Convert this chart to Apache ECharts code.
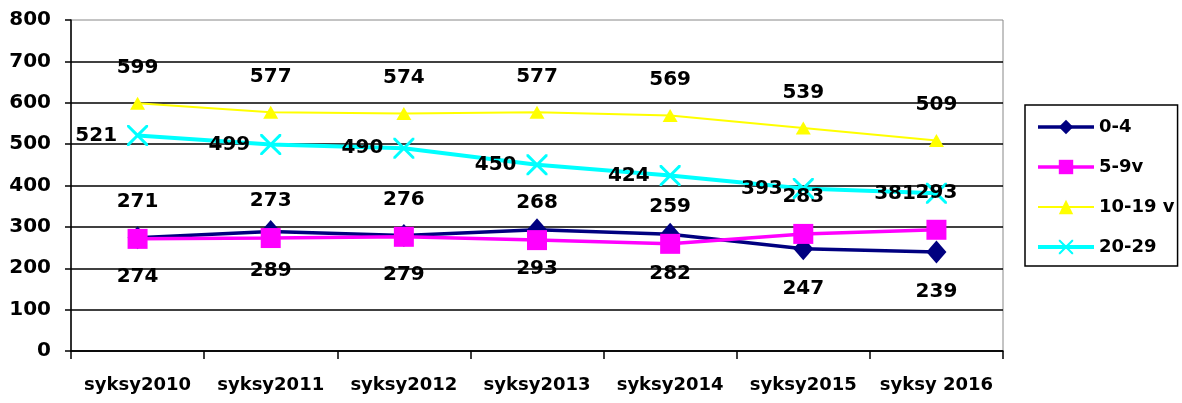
<!DOCTYPE html>
<html>
<head>
<meta charset="utf-8">
<script src="https://cdn.jsdelivr.net/npm/echarts@6/dist/echarts.min.js"></script>
<style>
  html, body { margin: 0; padding: 0; background: #fff; }
  #chart { width: 1182px; height: 403px; }
</style>
</head>
<body>
<div id="chart"></div>
<script>
var categories = ['syksy2010', 'syksy2011', 'syksy2012', 'syksy2013', 'syksy2014', 'syksy2015', 'syksy 2016'];
var names = ['0-4', '5-9v', '10-19 v', '20-29'];
var colors = ['#000080', '#FF00FF', '#FFFF00', '#00FFFF'];
var age0to4 = [274, 289, 279, 293, 282, 247, 239];
var age5to9 = [271, 273, 276, 268, 259, 283, 293];
var age10to19 = [599, 577, 574, 577, 569, 539, 509];
var age20to29 = [521, 499, 490, 450, 424, 393, 381];

var font = 'DejaVu Sans';
var crossPath = 'path://M0,0 L2,0 L10,8 L18,0 L20,0 L20,2 L12,10 L20,18 L20,20 L18,20 L10,12 L2,20 L0,20 L0,18 L8,10 L0,2 Z';
var lineWidths = [3.5, 3.5, 2, 4];

function lbl (pos, dist) {
  return {
    show: true,
    position: pos,
    distance: dist,
    color: '#000',
    fontFamily: font,
    fontWeight: 'bold',
    fontSize: 20
  };
}

var chart = echarts.init(document.getElementById('chart'));
chart.setOption({
  animation: false,
  backgroundColor: '#fff',
  grid: {
    left: 71, right: 179, top: 20, bottom: 52,
    show: true, borderColor: '#888', borderWidth: 1
  },
  legend: {
    orient: 'vertical',
    left: 1025, top: 105,
    padding: [12, 3, 9, 11],
    borderColor: '#000', borderWidth: 1.5,
    itemWidth: 56, itemHeight: 18, itemGap: 20,
    textStyle: { color: '#000', fontFamily: font, fontWeight: 'bold', fontSize: 18, lineHeight: 20 },
    data: names.map(function (n, i) {
      return { name: n, lineStyle: { color: colors[i], width: lineWidths[i] } };
    })
  },
  xAxis: {
    type: 'category',
    data: categories,
    boundaryGap: true,
    axisLine: { lineStyle: { color: '#000', width: 1.5 } },
    axisTick: { show: true, interval: 0, length: 8, lineStyle: { color: '#000', width: 1.5 } },
    axisLabel: { interval: 0, color: '#000', fontFamily: font, fontWeight: 'bold', fontSize: 18, margin: 25 }
  },
  yAxis: {
    type: 'value',
    min: 0, max: 800, interval: 100,
    axisLine: { show: true, lineStyle: { color: '#000', width: 1.5 } },
    axisTick: { show: true, length: 6, lineStyle: { color: '#000', width: 1.5 } },
    axisLabel: { color: '#000', fontFamily: font, fontWeight: 'bold', fontSize: 20, margin: 20 },
    splitLine: { show: true, showMaxLine: false, lineStyle: { color: '#000', width: 1.5 } }
  },
  series: [
    {
      name: names[0], type: 'line', data: age0to4,
      symbol: 'diamond', symbolSize: [20, 23],
      lineStyle: { color: colors[0], width: lineWidths[0] },
      itemStyle: { color: colors[0] },
      label: lbl('bottom', 18), z: 3
    },
    {
      name: names[1], type: 'line', data: age5to9,
      symbol: 'rect', symbolSize: 20,
      lineStyle: { color: colors[1], width: lineWidths[1] },
      itemStyle: { color: colors[1] },
      label: lbl('top', 17), z: 4
    },
    {
      name: names[2], type: 'line', data: age10to19,
      symbol: 'triangle', symbolSize: [15, 13],
      lineStyle: { color: colors[2], width: lineWidths[2] },
      itemStyle: { color: colors[2] },
      label: lbl('top', 19), z: 2
    },
    {
      name: names[3], type: 'line', data: age20to29,
      symbol: crossPath, symbolSize: 21,
      lineStyle: { color: colors[3], width: lineWidths[3] },
      itemStyle: { color: colors[3] },
      label: lbl('left', 10), z: 2
    }
  ]
});
</script>
</body>
</html>
